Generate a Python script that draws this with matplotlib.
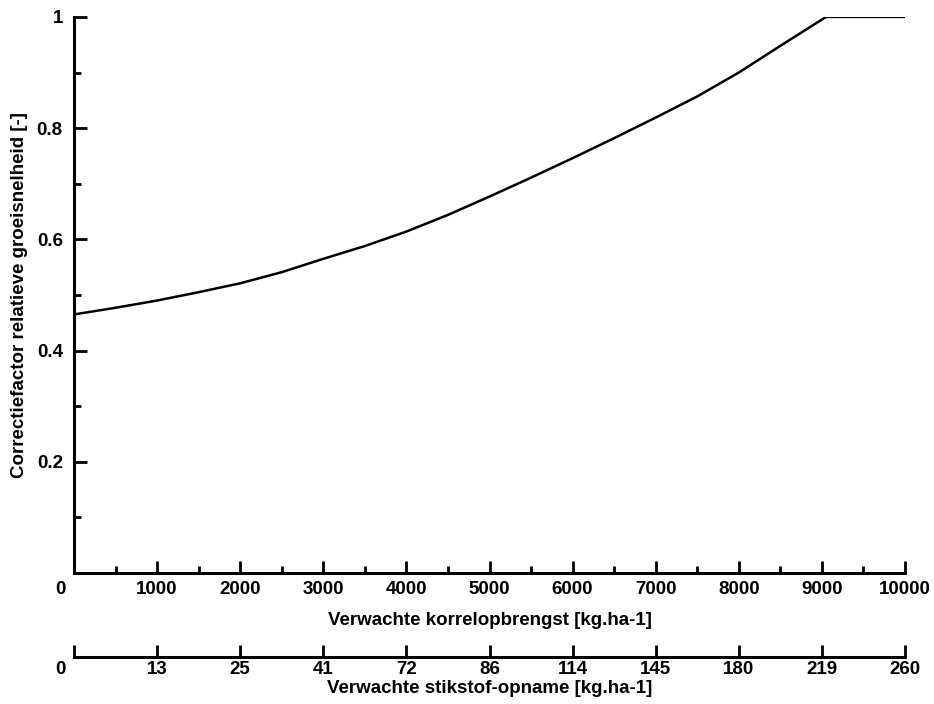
import matplotlib
matplotlib.use("Agg")
import matplotlib.pyplot as plt
from matplotlib.ticker import MultipleLocator
from matplotlib.transforms import ScaledTranslation

# ===== DATA =====
yield_kg = [0, 500, 1000, 1500, 2000, 2500, 3000, 3500, 4000, 4500, 5000,
            5500, 6000, 6500, 7000, 7500, 8000, 8500, 9050, 10000]
factor = [0.465, 0.477, 0.490, 0.505, 0.521, 0.541, 0.565, 0.588, 0.614, 0.644, 0.677,
          0.711, 0.746, 0.782, 0.819, 0.857, 0.900, 0.948, 1.0, 1.0]

yield_ticks = [0, 1000, 2000, 3000, 4000, 5000, 6000, 7000, 8000, 9000, 10000]
n_uptake = [0, 13, 25, 41, 72, 86, 114, 145, 180, 219, 260]
y_ticks = [0.2, 0.4, 0.6, 0.8, 1.0]
y_labels = ['0.2', '0.4', '0.6', '0.8', '1']

plt.rcParams['font.family'] = ['Liberation Sans', 'DejaVu Sans']
plt.rcParams['font.weight'] = 'bold'
FS = 13.5

fig = plt.figure(figsize=(9.34, 7.04), dpi=100)
ax = fig.add_axes([0.0792, 0.186, 0.8898, 0.790])

ax.plot(yield_kg, factor, color='black', linewidth=1.8)

ax.set_xlim(0, 10000)
ax.set_ylim(0, 1)

for side in ('top', 'right'):
    ax.spines[side].set_visible(False)
for side in ('left', 'bottom'):
    ax.spines[side].set_linewidth(2.2)

ax.set_xticks(yield_ticks)
ax.set_xticklabels([str(v) for v in yield_ticks], fontsize=FS, fontweight='bold')
ax.xaxis.set_minor_locator(MultipleLocator(500))
ax.set_yticks(y_ticks)
ax.set_yticklabels(y_labels, fontsize=FS, fontweight='bold')
ax.yaxis.set_minor_locator(MultipleLocator(0.1))

ax.tick_params(axis='both', which='major', direction='in', length=9, width=2, pad=8)
ax.tick_params(axis='both', which='minor', direction='in', length=5, width=2)
ax.tick_params(axis='x', which='major', pad=6)

# the "0" sits a bit left of the corner
shift = ScaledTranslation(-14 / 100, 0, fig.dpi_scale_trans)
lbl0 = ax.get_xticklabels()[0]
lbl0.set_transform(lbl0.get_transform() + shift)

ax.set_xlabel('Verwachte korrelopbrengst [kg.ha-1]', fontsize=FS, fontweight='bold', labelpad=10)
ax.set_ylabel('Correctiefactor relatieve groeisnelheid [-]', fontsize=FS, fontweight='bold', labelpad=6)

# ===== SECOND X AXIS: nitrogen uptake =====
sec = ax.secondary_xaxis(location=-0.151)
sec.set_xticks(yield_ticks)
sec.set_xticklabels([str(v) for v in n_uptake], fontsize=FS, fontweight='bold')
sec.spines['bottom'].set_linewidth(2.2)
sec.tick_params(axis='x', which='major', direction='in', length=9, width=2, pad=3)
sec.tick_params(axis='x', which='minor', bottom=False)
sec.set_xlabel('Verwachte stikstof-opname [kg.ha-1]', fontsize=FS, fontweight='bold', labelpad=1)
slbl0 = sec.get_xticklabels()[0]
slbl0.set_transform(slbl0.get_transform() + shift)

fig.savefig('out.png', dpi=100)
